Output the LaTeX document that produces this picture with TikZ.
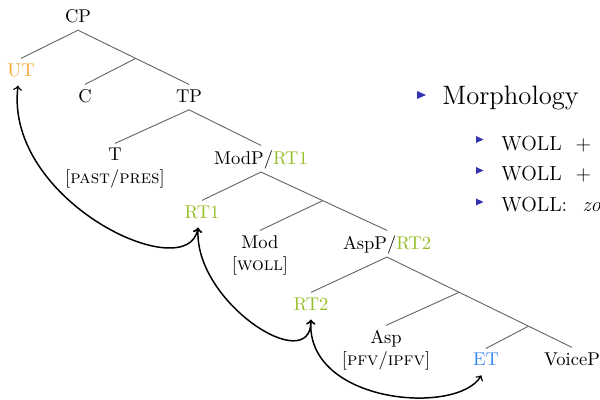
\documentclass[tikz,border=0pt]{standalone}
\usepackage{tikz}
\usetikzlibrary{calc}
\definecolor{utcol}{RGB}{245,168,50}
\definecolor{rtcol}{RGB}{150,190,40}
\definecolor{etcol}{RGB}{55,135,245}
\definecolor{itemblue}{RGB}{51,51,179}

\begin{document}
\begin{tikzpicture}[x=0.5405pt,y=-0.5405pt,
    tn/.style={anchor=north,inner sep=2.5pt,text depth=0.35ex,align=center},
    branch/.style={black!60,line width=0.5pt},
    tlink/.style={<->,thick,black,shorten <=1pt,shorten >=1pt},
    itemtri/.pic={\fill[itemblue] (0,-4) -- (9,0) -- (0,4) -- cycle;},
    subtri/.pic={\fill[itemblue] (0,-3.5) -- (7.5,0) -- (0,3.5) -- cycle;},
    itm/.style={anchor=base west,inner sep=0pt}]
    \useasboundingbox (0,0) rectangle (600,400);
    \clip (0,0) rectangle (600,400);
    \node[tn] (CP) at (78,4.4) {CP};
    \node[tn,text=utcol] (UT) at (21,58.4) {UT};
    \node[tn] (C) at (85,84.4) {C};
    \node[tn] (TP) at (189,84.4) {TP};
    \node[tn] (T) at (115,143.4) {T\\{[}\textsc{past}/\textsc{pres}]};
    \node[tn] (ModP) at (261,145.4) {ModP/\textcolor{rtcol}{RT1}};
    \node[tn,text=rtcol] (RT1) at (202,200.4) {RT1};
    \node[tn] (Mod) at (260,230.4) {Mod\\{[}\textsc{woll}]};
    \node[tn] (AspP) at (387,230.4) {AspP/\textcolor{rtcol}{RT2}};
    \node[tn,text=rtcol] (RT2) at (311,292.4) {RT2};
    \node[tn] (Asp) at (386,325.4) {Asp\\{[}\textsc{pfv}/\textsc{ipfv}]};
    \node[tn,text=etcol] (ET) at (486,348.4) {ET};
    \node[tn] (VoiceP) at (572,347.4) {VoiceP};
    \coordinate (cpbar) at ($(CP.south)!0.52!(TP.north)$);
    \coordinate (modbar) at ($(ModP.south)!0.49!(AspP.north)$);
    \coordinate (aspbar) at ($(AspP.south)!0.39!(VoiceP.north)$);
    \coordinate (etbar) at ($(AspP.south)!0.765!(VoiceP.north)$);
    \draw[branch] (UT.north) -- (CP.south) -- (TP.north);
    \draw[branch] (cpbar) -- (C.north);
    \draw[branch] (T.north) -- (TP.south) -- (ModP.north);
    \draw[branch] (RT1.north) -- (ModP.south) -- (AspP.north);
    \draw[branch] (modbar) -- (Mod.north);
    \draw[branch] (RT2.north) -- (AspP.south) -- (VoiceP.north);
    \draw[branch] (aspbar) -- (Asp.north);
    \draw[branch] (etbar) -- (ET.north);
    \draw[tlink] ([xshift=-1.5pt]UT.south) .. controls +(-14,118) and +(-10,62) .. ([xshift=-2pt]RT1.south);
    \draw[tlink] ([xshift=-2pt]RT1.south) .. controls +(-5,76) and +(0,60) .. (RT2.south);
    \draw[tlink] (RT2.south) .. controls +(-5,86) and +(-25,42) .. ([xshift=-2pt]ET.south);
    \pic at (417,95) {itemtri};
    \node[itm,font=\Large] (morph) at (442,104.5) {Morphology};
    \pic at (476,139.5) {subtri};
    \pic at (476,170.5) {subtri};
    \pic at (476,202) {subtri};
    \node[itm,font=\fontsize{11}{13}\selectfont] (pres) at (501,150.5) {WOLL\hspace{.68em}+};
    \node[itm,font=\fontsize{11}{13}\selectfont] (past) at (501,181) {WOLL\hspace{.68em}+};
    \node[itm,font=\fontsize{11}{13}\selectfont] (zou) at (501,212) {WOLL:\hspace{.75em}\textit{zo}};
\end{tikzpicture}
\end{document}
